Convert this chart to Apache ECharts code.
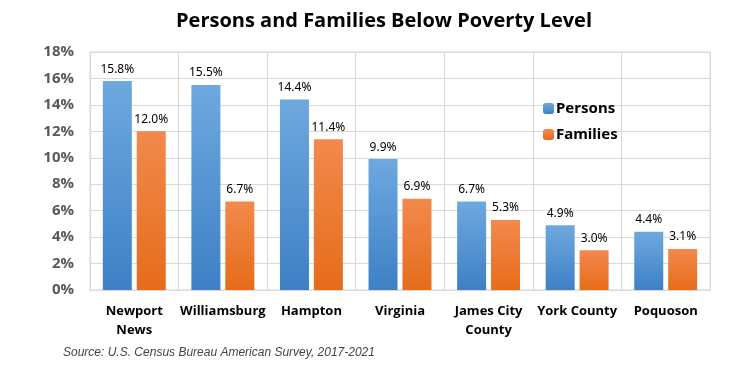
<!DOCTYPE html>
<html><head><meta charset="utf-8">
<script src="https://cdn.jsdelivr.net/npm/echarts@6/dist/echarts.min.js"></script>
<style>html,body{margin:0;padding:0;background:#fff}#c{width:736px;height:366px}</style>
</head><body><div id="c"></div>
<script>
const categories = ['Newport\nNews','Williamsburg','Hampton','Virginia','James City\nCounty','York County','Poquoson'];
const persons = [15.8, 15.5, 14.4, 9.9, 6.7, 4.9, 4.4];
const families = [12.0, 6.7, 11.4, 6.9, 5.3, 3.0, 3.1];
const yTicks = [0,2,4,6,8,10,12,14,16,18];

const chart = echarts.init(document.getElementById('c'), null, {renderer:'canvas'});
const blueGrad = new echarts.graphic.LinearGradient(0,0,0,1,[{offset:0,color:'#6ea8de'},{offset:1,color:'#3e80c6'}]);
const orangeGrad = new echarts.graphic.LinearGradient(0,0,0,1,[{offset:0,color:'#f2894c'},{offset:1,color:'#e66c1a'}]);
const lbl = {show:true, position:'top', distance:6, color:'#000', fontFamily:'Noto Sans', fontSize:12, formatter: p => p.value.toFixed(1)+'%'};
chart.setOption({
  animation:false,
  title:{text:'Persons and Families Below Poverty Level', left:171, top:6,
    textStyle:{fontFamily:'Open Sans', fontWeight:'bold', fontSize:20, color:'#000'}},
  legend:{data:['Persons','Families'], orient:'vertical', left:538, top:96, itemWidth:11, itemHeight:11, itemGap:11,
    textStyle:{fontFamily:'Noto Sans', fontWeight:'bold', fontSize:15, color:'#000', padding:[0,0,0,-3]}},
  grid:{left:90, right:26, top:52, bottom:76, show:true, borderColor:'#d9d9d9', borderWidth:1},
  xAxis:{type:'category', data:categories,
    axisLine:{show:true, lineStyle:{color:'#d9d9d9'}}, axisTick:{show:false},
    splitLine:{show:true, lineStyle:{color:'#d9d9d9'}},
    axisLabel:{interval:0, margin:12, color:'#000', fontFamily:'Open Sans', fontWeight:'bold', fontSize:13, lineHeight:19}},
  yAxis:{type:'value', min:0, max:18, interval:2,
    axisLine:{show:false}, axisTick:{show:false},
    splitLine:{lineStyle:{color:'#d9d9d9'}},
    axisLabel:{margin:16, color:'#595959', fontFamily:'Open Sans', fontWeight:'bold', fontSize:15,
      formatter: v => yTicks.includes(v) ? v+'%' : ''}},
  series:[
    {name:'Persons', type:'bar', data:persons, barWidth:29, barGap:'17%', itemStyle:{color:blueGrad}, label:lbl},
    {name:'Families', type:'bar', data:families, barWidth:29, itemStyle:{color:orangeGrad}, label:lbl}
  ],
  graphic:[{type:'text', left:63, top:347, style:{text:'Source: U.S. Census Bureau American Survey, 2017-2021',
    font:'italic 12px "Liberation Sans"', fill:'#444'}}]
});
</script></body></html>
